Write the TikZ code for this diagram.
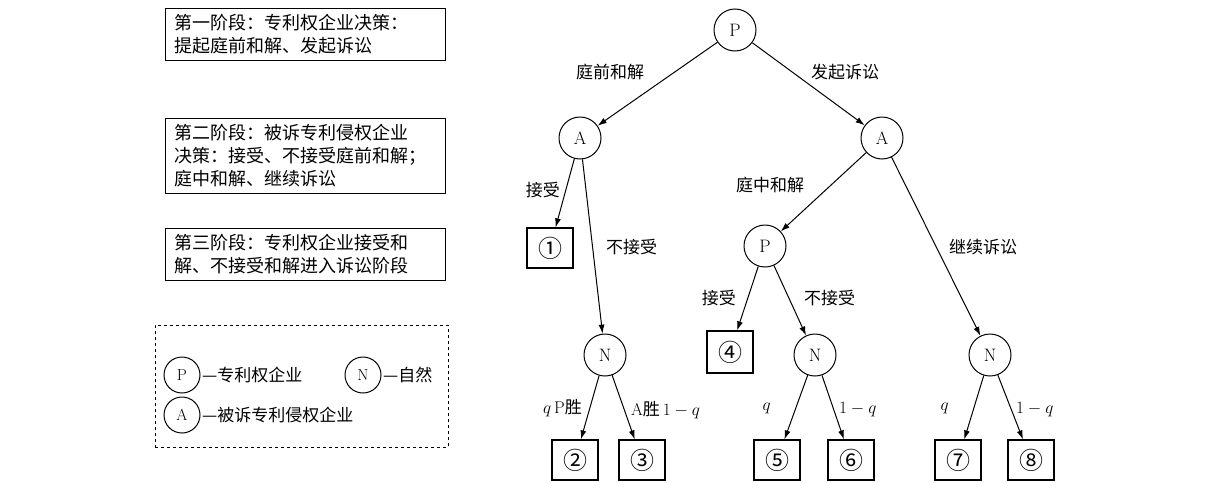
\documentclass[tikz,border=0pt]{standalone}
\usepackage{fontspec}
\newfontfamily\cjk{Noto Sans CJK SC}
\usetikzlibrary{arrows.meta}
\begin{document}
\begin{tikzpicture}[x=1pt,y=-1pt,
  gnode/.style={circle,draw,line width=1pt,minimum size=42pt,inner sep=0pt,font=\fontsize{18}{18}\selectfont},
  tbox/.style={rectangle,draw,line width=1.2pt,minimum width=46pt,minimum height=40pt,inner sep=0pt,font=\cjk\fontsize{24}{24}\selectfont},
  stagebox/.style={draw,line width=1pt,anchor=north west,text width=262pt,inner xsep=9pt,inner ysep=6pt,align=left,font=\cjk\fontsize{18}{23}\selectfont},
  elabel/.style={font=\cjk\fontsize{17}{17}\selectfont,inner sep=1pt},
  edge/.style={line width=1pt,-{Latex[length=9pt,width=6pt]}},
  lnode/.style={circle,draw,line width=1pt,minimum size=36pt,inner sep=0pt,font=\fontsize{16}{16}\selectfont}
]
\useasboundingbox (0,0) rectangle (1223,482);

% stage boxes
\node[stagebox] (s1) at (165,8) {第一阶段：专利权企业决策：\\提起庭前和解、发起诉讼};
\node[stagebox] (s2) at (165,118) {第二阶段：被诉专利侵权企业\\决策：接受、不接受庭前和解；\\庭中和解、继续诉讼};
\node[stagebox] (s3) at (165,228) {第三阶段：专利权企业接受和\\解、不接受和解进入诉讼阶段};

% game nodes
\node[gnode] (P0) at (735,30) {P};
\node[gnode] (A1) at (580,138) {A};
\node[gnode] (A2) at (882,138) {A};
\node[tbox] (B1) at (550,248) {①};
\node[gnode] (P3) at (765,246) {P};
\node[gnode] (N1) at (605,355) {N};
\node[tbox,minimum height=42pt] (B4) at (730,352) {④};
\node[gnode] (N2) at (815,355) {N};
\node[gnode] (N3) at (990,355) {N};
\node[tbox] (B2) at (575,460) {②};
\node[tbox] (B3) at (642,460) {③};
\node[tbox] (B5) at (777,460) {⑤};
\node[tbox] (B6) at (851,460) {⑥};
\node[tbox] (B7) at (958,460) {⑦};
\node[tbox] (B8) at (1031,460) {⑧};

% connectors
\draw[edge] (P0) -- (A1);
\draw[edge] (P0) -- (A2);
\draw[edge] (A1) -- (B1);
\draw[edge] (A1) -- (N1);
\draw[edge] (A2) -- (P3);
\draw[edge] (A2) -- (N3);
\draw[edge] (P3) -- (B4);
\draw[edge] (P3) -- (N2);
\draw[edge] (N1) -- (B2);
\draw[edge] (N1) -- (B3);
\draw[edge] (N2) -- (B5);
\draw[edge] (N2) -- (B6);
\draw[edge] (N3) -- (B7);
\draw[edge] (N3) -- (B8);

% edge labels
\node[elabel] (l1) at (610,72) {庭前和解};
\node[elabel] (l2) at (845,72) {发起诉讼};
\node[elabel,anchor=east] (l3) at (561,190) {接受};
\node[elabel,anchor=west] (l4) at (605,247) {不接受};
\node[elabel] (l5) at (770,185) {庭中和解};
\node[elabel,anchor=west] (l6) at (948,247) {继续诉讼};
\node[elabel,anchor=east] (l7) at (737,298) {接受};
\node[elabel,anchor=west] (l8) at (803,298) {不接受};
\node[elabel,anchor=east] (l9) at (583,408) {$q$\,{\rmfamily P}胜};
\node[elabel,anchor=west] (l10) at (630,410) {{\rmfamily A}胜\,$1-q$};
\node[elabel,anchor=east] (l11) at (772,408) {$q$};
\node[elabel,anchor=west] (l12) at (838,410) {$1-q$};
\node[elabel,anchor=east] (l13) at (950,408) {$q$};
\node[elabel,anchor=west] (l14) at (1015,410) {$1-q$};

% legend
\node[draw,dashed,line width=0.8pt,minimum width=293pt,minimum height=122pt,anchor=north west] (leg) at (155,325) {};
\node[lnode] (LP) at (182,375) {P};
\node[elabel,anchor=west] (LPt) at (201,375) {—专利权企业};
\node[lnode] (LN) at (363,375) {N};
\node[elabel,anchor=west] (LNt) at (382,375) {—自然};
\node[lnode] (LA) at (182,415) {A};
\node[elabel,anchor=west] (LAt) at (201,415) {—被诉专利侵权企业};
\end{tikzpicture}
\end{document}
